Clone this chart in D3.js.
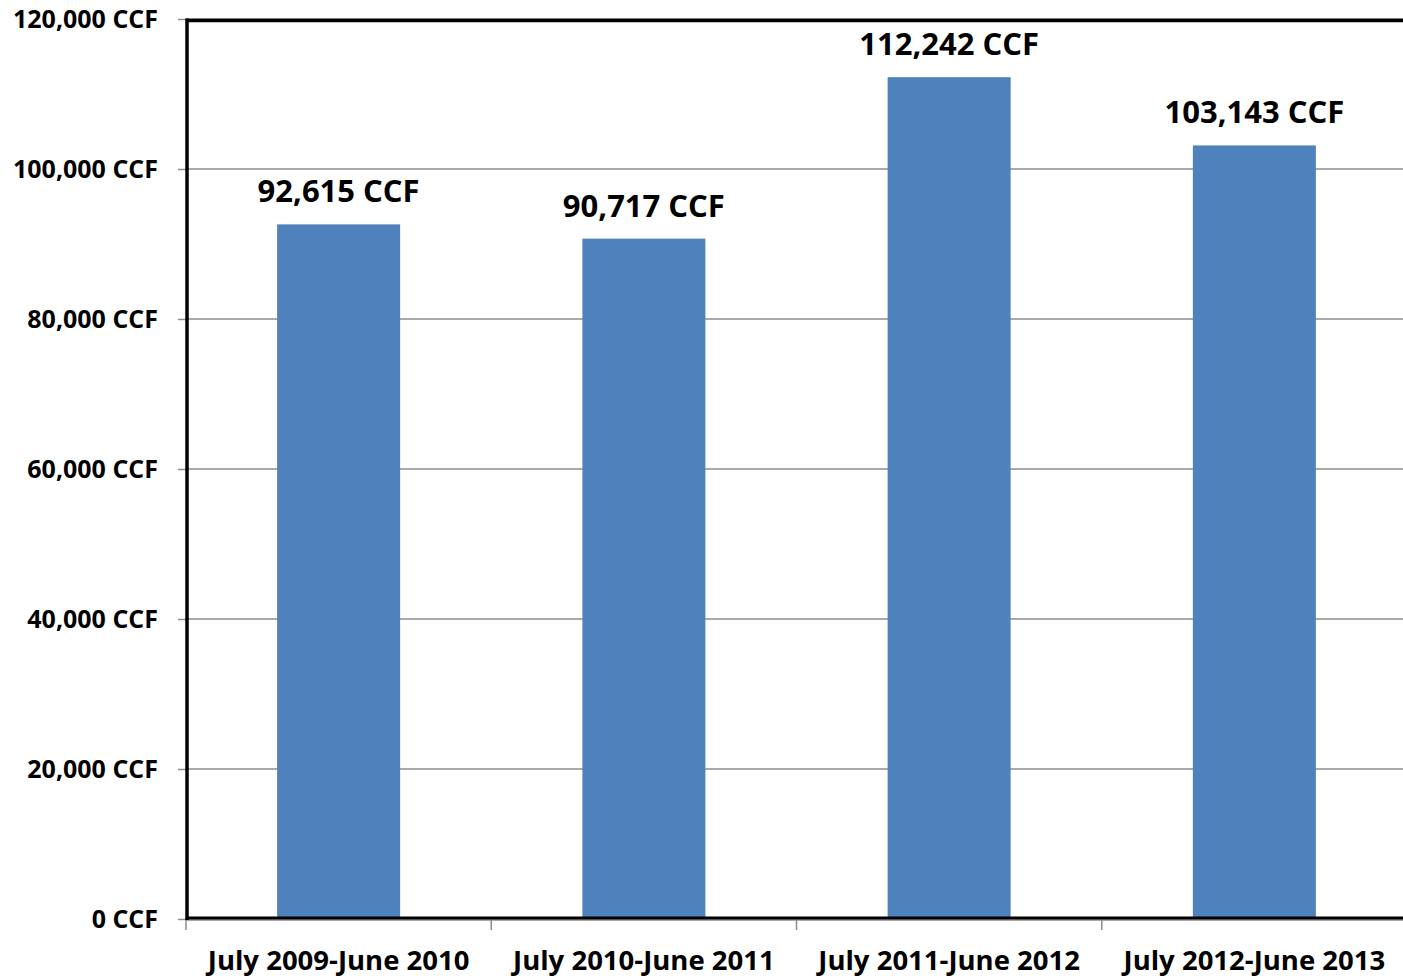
<!DOCTYPE html>
<html><head><meta charset="utf-8">
<script src="https://cdn.jsdelivr.net/npm/d3@7"></script>
<style>body{margin:0;background:#fff}svg{display:block}text{font-family:"Open Sans",sans-serif;font-weight:700;fill:#000}</style>
</head><body><svg id="c" width="1403" height="978"></svg>
<script>
const categories = ["July 2009-June 2010","July 2010-June 2011","July 2011-June 2012","July 2012-June 2013"];
const values = [92615, 90717, 112242, 103143];
const yTicks = [0,20000,40000,60000,80000,100000,120000];

(function(){
const svg = d3.select("#c");
const pL = 186, pR = 1407, pT = 19, pB = 919;
const x = d3.scaleBand().domain(categories).range([pL,pR]).paddingInner(0.597).paddingOuter(0.2985);
const y = d3.scaleLinear().domain([0,120000]).range([pB,pT]);
const fmt = d3.format(",");

// gridlines
svg.append("g").selectAll("line").data(yTicks.filter(d=>d>0)).join("line")
  .attr("x1",pL).attr("x2",1403).attr("y1",d=>y(d)).attr("y2",d=>y(d))
  .attr("stroke","#8c8c8c").attr("stroke-width",1.5);

// y axis
const ya = svg.append("g").attr("transform",`translate(${pL},0)`)
  .call(d3.axisLeft(y).tickValues(yTicks).tickSize(8).tickPadding(20).tickFormat(d=>fmt(d)+" CCF"));
ya.select(".domain").remove();
ya.selectAll(".tick line").attr("stroke","#8c8c8c").attr("stroke-width",1.5);
ya.selectAll(".tick text").attr("font-size",25).attr("font-family","'Open Sans',sans-serif").attr("font-weight",700).attr("fill","#000");

// bars
svg.append("g").selectAll("rect").data(values).join("rect")
  .attr("x",(d,i)=>x(categories[i])).attr("width",x.bandwidth())
  .attr("y",d=>y(d)).attr("height",d=>pB-y(d)).attr("fill","#4f81bd");

// x axis
const xs = d3.scalePoint().domain(d3.range(5)).range([pL,pL+x.step()*4]);
const xa = svg.append("g").attr("transform",`translate(0,${pB+1})`);
xa.append("line").attr("x1",pL).attr("x2",1403).attr("stroke","#8c8c8c").attr("stroke-width",1.5);
xa.selectAll("line.t").data(d3.range(5)).join("line").attr("class","t")
  .attr("x1",d=>xs(d)).attr("x2",d=>xs(d)).attr("y1",0).attr("y2",10)
  .attr("stroke","#8c8c8c").attr("stroke-width",1.5);
xa.selectAll("text").data(categories).join("text")
  .attr("x",d=>x(d)+x.bandwidth()/2).attr("y",50).attr("text-anchor","middle")
  .attr("font-size",27.5).text(d=>d);

// frame
svg.append("line").attr("x1",pL+1).attr("x2",pL+1).attr("y1",pT-0.5).attr("y2",pB+1).attr("stroke","#000").attr("stroke-width",3.5);
svg.append("line").attr("x1",pL).attr("x2",1403).attr("y1",pT+1.5).attr("y2",pT+1.5).attr("stroke","#000").attr("stroke-width",3.5);
svg.append("line").attr("x1",pL).attr("x2",1403).attr("y1",pB-1).attr("y2",pB-1).attr("stroke","#000").attr("stroke-width",3);

// data labels
svg.append("g").selectAll("text").data(values).join("text")
  .attr("x",(d,i)=>x(categories[i])+x.bandwidth()/2).attr("y",d=>y(d)-22)
  .attr("text-anchor","middle").attr("font-size",31).text(d=>fmt(d)+" CCF");
})();
</script></body></html>
